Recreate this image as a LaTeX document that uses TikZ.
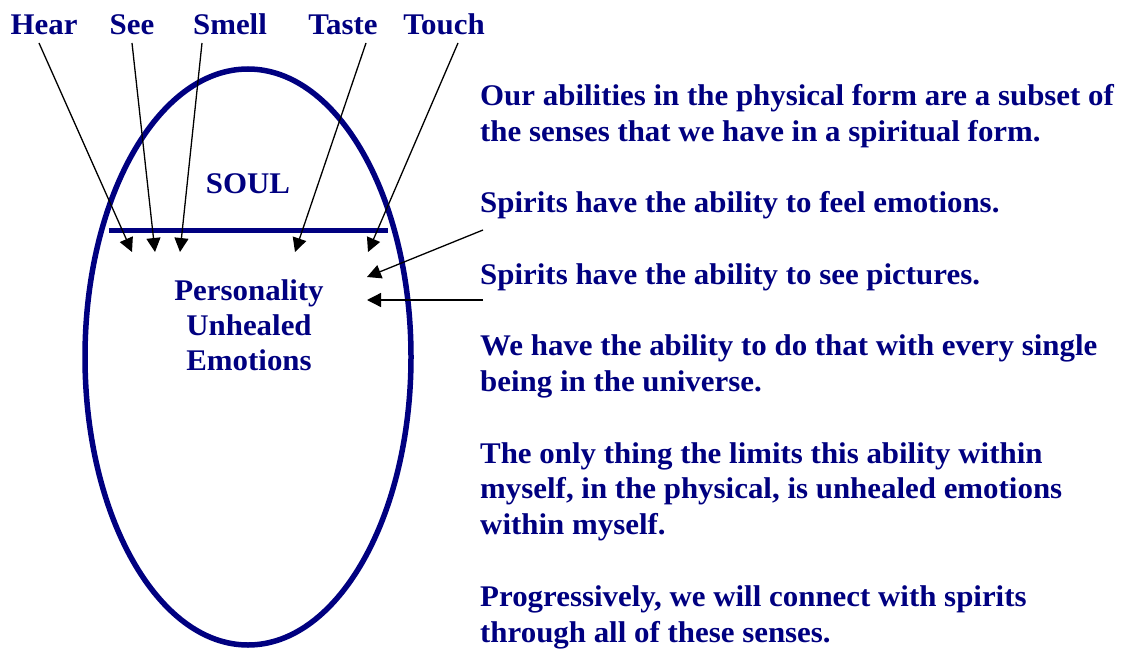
\documentclass[tikz,border=0pt]{standalone}
\usepackage{fontspec}
\setmainfont{Liberation Serif}[FakeStretch=1.03]
\usetikzlibrary{arrows.meta,positioning}
\definecolor{navy}{RGB}{0,0,128}
\tikzset{
  >={Triangle[length=14pt,width=14pt]},
  words/.style={text=navy,font=\fontsize{30}{35.8}\selectfont\bfseries,inner sep=0pt},
  para/.style={words,align=left,anchor=base west},
  sense/.style={words,anchor=base},
  arrow/.style={->,line width=1.3pt,black},
}

\begin{document}
\begin{tikzpicture}[x=1pt,y=-1pt]
  \useasboundingbox (0,0) rectangle (1126,650);
  % the being
  \draw[navy,line width=5.5pt] (248,357) ellipse (163 and 288);
  \coordinate (cutl) at (109,230);
  \coordinate (cutr) at (388,230);
  \draw[navy,line width=5pt] (cutl) -- (cutr);
  \node[sense] (soul) at (248,193) {SOUL};
  \node[words,font=\fontsize{30}{35}\selectfont\bfseries,align=center,anchor=base] (pers) at (249,370)
    {Personality\\Unhealed\\Emotions};
  % senses
  \foreach \n/\t/\x/\dx/\tx in {hear/Hear/44/-5/132,see/See/132/0/155,
      smell/Smell/230/-28/180,taste/Taste/343/23/295,touch/Touch/444/14/368}
  {
    \node[sense] (\n) at (\x,35) {\t};
    \coordinate (\n tip) at (\tx,252);
    \draw[arrow] ([xshift=\dx pt,yshift=-8pt]\n.base) -- (\n tip);
  }
  % text on the right (base = last line)
  \node[para] (p1) at (480,141)
    {Our abilities in the physical form are a subset of\\the senses that we have in a spiritual form.};
  \node[para] (p2) at (480,212.6) {Spirits have the ability to feel emotions.};
  \node[para] (p3) at (480,284.2) {Spirits have the ability to see pictures.};
  \node[para] (p4) at (480,391.4)
    {We have the ability to do that with every single\\being in the universe.};
  \node[para] (p5) at (480,534.6)
    {The only thing the limits this ability within\\myself, in the physical, is unhealed emotions\\within myself.};
  \node[para] (p6) at (480,642)
    {Progressively, we will connect with spirits\\through all of these senses.};
  \coordinate (feel) at (483,230);
  \coordinate (feeltip) at (367,277);
  \coordinate (see) at (483,300);
  \coordinate (seetip) at (367,300);
  \draw[arrow] (feel) -- (feeltip);
  \draw[arrow] (see) -- (seetip);
\end{tikzpicture}
\end{document}
